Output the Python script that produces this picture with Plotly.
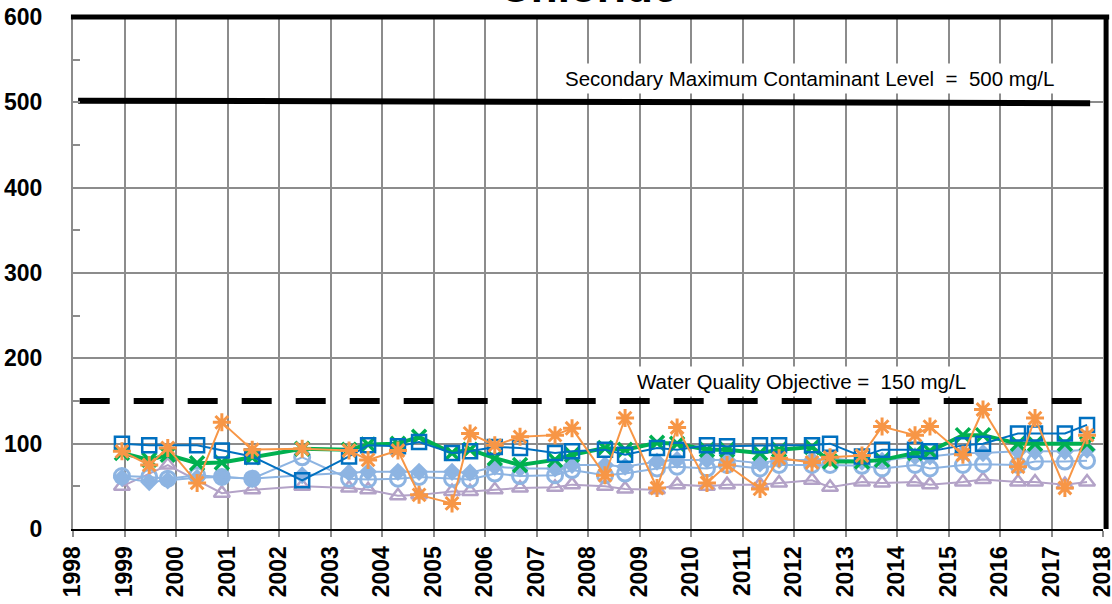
import plotly.graph_objects as go

# sample dates (decimal years)
dates = [1998.95, 1999.48, 1999.84, 2000.41, 2000.89, 2001.48, 2002.45, 2003.36, 2003.73, 2004.31,
         2004.72, 2005.36, 2005.71, 2006.19, 2006.68, 2007.36, 2007.69, 2008.33, 2008.72, 2009.34,
         2009.73, 2010.31, 2010.70, 2011.34, 2011.71, 2012.35, 2012.70, 2013.32, 2013.71, 2014.35,
         2014.64, 2015.28, 2015.67, 2016.35, 2016.68, 2017.26, 2017.69]

well_squares = [100, 98, None, 98, 92, 85, 57, 85, 98, 97,
                102, 89, 91, 96, 95, 89, 91, 93, 87, 95,
                93, 98, 97, 98, 98, 98, 100, 85, 93, 93,
                91, 98, 100, 112, 112, 112, 122]
well_x = [89, 81, 87, 77, 78, 84, 94, 93, 99, 100,
          108, 89, 93, 83, 75, 81, 87, 95, 93, 101,
          100, 93, 93, 89, 93, 96, 79, 79, 81, 89,
          91, 110, 110, 100, 100, 100, 100]
well_star = [91, 75, 95, 54, 125, 93, 94, 92, 81, 92,
             40, 30, 112, 98, 108, 110, 118, 63, 130, 48,
             119, 54, 75, 47, 83, 78, 84, 86, 120, 110,
             120, 87, 140, 73, 130, 48, 110]
well_circle = [62, 61, 59, 63, 61, 59, 84, 59, 58, 59,
               61, 59, 58, 65, 62, 63, 69, 63, 65, 71,
               73, 71, 75, 71, 75, 75, 75, 74, 71, 75,
               71, 75, 76, 75, 79, 79, 80]
well_diamond = [60, 55, 57, 60, 61, 59, 63, 66, 67, 67,
                67, 67, 66, 73, 71, 71, 75, 75, 73, 79,
                81, 81, 81, 77, 81, 81, 83, 79, 80, 85,
                85, 89, 89, 91, 91, 91, 93]
well_triangle = [50, None, 75, None, 42, 46, 50, 48, 46, 39,
                 40, 44, 44, 46, 48, 49, 52, 50, 47, 46,
                 52, 50, 52, 52, 54, 57, 49, 55, 54, 55,
                 52, 55, 58, 55, 55, 52, 55]

# reference limits
smcl_x = [1998.1, 2017.75]
smcl_y = [502, 499]
wqo_x = [1998.13, 2017.8]
wqo_y = [150, 150]

years = list(range(1998, 2019))

fig = go.Figure()

fig.add_trace(go.Scatter(x=smcl_x, y=smcl_y, mode='lines', line=dict(color='black', width=6)))
fig.add_trace(go.Scatter(x=wqo_x, y=wqo_y, mode='lines', line=dict(color='black', width=6, dash='30px,24px')))

series = [
    (well_triangle, '#B3A2C7', 'triangle-up-open', 14, 2.5, 2),
    (well_diamond, '#8DB4E2', 'diamond', 14, 0, 2),
    (well_circle, '#8DB4E2', 'circle-open', 15, 3, 2),
    (well_x, '#00B050', 'x-thin-open', 14, 3.5, 4),
    (well_squares, '#0070C0', 'square-open', 14, 2.5, 2),
    (well_star, '#F79646', 'asterisk-open', 15, 3, 2),
]
for vals, col, sym, sz, mlw, lw in series:
    fig.add_trace(go.Scatter(
        x=dates, y=vals, mode='lines+markers', connectgaps=True,
        line=dict(color=col, width=lw),
        marker=dict(symbol=sym, size=sz, color=col, line=dict(color=col, width=mlw))
    ))

fig.update_layout(
    width=1112, height=604, showlegend=False,
    plot_bgcolor='white', paper_bgcolor='white',
    margin=dict(l=73, r=9, t=17, b=75),
    font=dict(family='Liberation Sans, Arial, sans-serif', color='black'),
    xaxis=dict(range=[1998, 2018], tickvals=years, ticktext=[str(y) for y in years],
               tickangle=-90, tickfont=dict(size=23, family='Liberation Sans, Arial', weight='bold'),
               showgrid=True, gridcolor='#8c8c8c', gridwidth=2, automargin=False,
               ticklabeloverflow='allow',
               showline=True, linecolor='black', linewidth=2,
               ticks='outside', ticklen=6, tickcolor='#8c8c8c', tickwidth=2, zeroline=False),
    yaxis=dict(range=[0, 600], dtick=100, automargin=False,
               tickfont=dict(size=23, family='Liberation Sans, Arial', weight='bold'),
               showgrid=True, gridcolor='#8c8c8c', gridwidth=2,
               showline=True, linecolor='#8c8c8c', linewidth=2,
               ticks='inside', ticklen=7, tickcolor='#8c8c8c', tickwidth=2,
               ticklabelstandoff=24, zeroline=False,
               minor=dict(dtick=50, ticks='inside', ticklen=7, tickcolor='#8c8c8c', tickwidth=2, showgrid=False)),
    shapes=[
        dict(type='line', xref='paper', yref='paper', x0=-0.002, x1=1.006, y0=1, y1=1,
             line=dict(color='black', width=5)),
        dict(type='line', xref='paper', yref='paper', x0=1.003, x1=1.003, y0=0, y1=1,
             line=dict(color='black', width=5)),
    ],
    annotations=[
        dict(text='<b>Chloride</b>', xref='paper', yref='paper', x=0.5, y=1, yanchor='bottom',
             yshift=4, showarrow=False, font=dict(size=44)),
        dict(text='Secondary Maximum Contaminant Level \u00a0=\u00a0 500 mg/L', x=2012.31, y=528.5,
             showarrow=False, bgcolor='white', borderpad=3, font=dict(size=20.5)),
        dict(text='Water Quality Objective = \u00a0150 mg/L', x=2012.15, y=173.4,
             showarrow=False, bgcolor='white', borderpad=3, font=dict(size=20.5)),
    ],
)

# drop the page's default body margin so the figure sits at the top-left corner
fig.write_html("out.html", config={'displayModeBar': False},
               post_script="document.body.style.margin='0';")
